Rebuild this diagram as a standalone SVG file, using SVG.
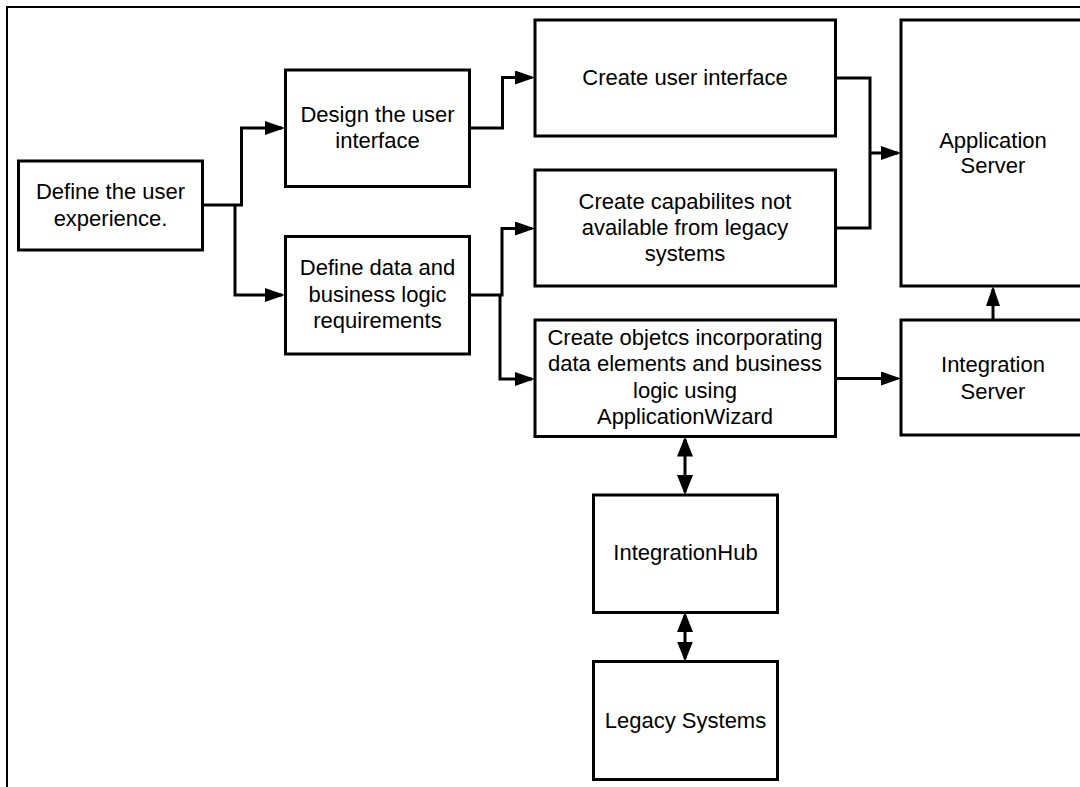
<svg xmlns="http://www.w3.org/2000/svg" width="1080" height="787" viewBox="0 0 1080 787">
  <style>
    .box { fill: #ffffff; stroke: #000000; stroke-width: 3; stroke-linejoin: miter; }
    .lbl { font-family: "Liberation Sans", Arial, sans-serif; font-size: 22px; fill: #000000; text-anchor: middle; }
    .wire { fill: none; stroke: #000000; stroke-width: 3; stroke-linejoin: miter; stroke-linecap: butt; }
    .frame { fill: none; stroke: #000000; stroke-width: 2; }
  </style>
  <defs>
    <marker id="arrow" markerUnits="userSpaceOnUse" markerWidth="22" markerHeight="16" refX="17" refY="7" orient="auto">
      <path d="M0,0 L20,7 L0,14 Z" fill="#000000"/>
    </marker>
    <marker id="arrow2" markerUnits="userSpaceOnUse" markerWidth="22" markerHeight="18" refX="17" refY="8" orient="auto-start-reverse">
      <path d="M0,0 L20,8 L0,16 Z" fill="#000000"/>
    </marker>
  </defs>

  <rect width="1080" height="787" fill="#ffffff"/>
  <!-- page frame -->
  <rect class="frame" x="7" y="7" width="1090" height="800"/>

  <!-- connectors -->
  <g id="connectors">
    <path class="wire" d="M202.5,205 H241.5 V128 H282" marker-end="url(#arrow)"/>
    <path class="wire" d="M235,205 V295 H282" marker-end="url(#arrow)"/>
    <path class="wire" d="M469.5,128 H502.5 V77.5 H532" marker-end="url(#arrow)"/>
    <path class="wire" d="M469.5,295 H502 V228.5 H532" marker-end="url(#arrow)"/>
    <path class="wire" d="M500,295 V379 H532" marker-end="url(#arrow)"/>
    <path class="wire" d="M835.5,78 H870 V228 H835.5"/>
    <path class="wire" d="M870,153 H898" marker-end="url(#arrow)"/>
    <path class="wire" d="M835.5,378.5 H898" marker-end="url(#arrow)"/>
    <path class="wire" d="M993,320 V289" marker-end="url(#arrow)"/>
    <path class="wire" d="M685,439.5 V492" marker-start="url(#arrow2)" marker-end="url(#arrow2)"/>
    <path class="wire" d="M685,615 V658.5" marker-start="url(#arrow2)" marker-end="url(#arrow2)"/>
  </g>

  <g id="define-experience">
    <rect class="box" x="18.5" y="161" width="184" height="89"/>
    <text class="lbl" x="110.5" y="199">Define the user</text>
    <text class="lbl" x="110.5" y="226">experience.</text>
  </g>

  <g id="design-ui">
    <rect class="box" x="285.5" y="70" width="184" height="116.5"/>
    <text class="lbl" x="377.5" y="121.5">Design the user</text>
    <text class="lbl" x="377.5" y="147.5">interface</text>
  </g>

  <g id="define-data">
    <rect class="box" x="285.5" y="236.5" width="184" height="117.5"/>
    <text class="lbl" x="377.5" y="275">Define data and</text>
    <text class="lbl" x="377.5" y="301.5">business logic</text>
    <text class="lbl" x="377.5" y="328">requirements</text>
  </g>

  <g id="create-ui">
    <rect class="box" x="535" y="20" width="300.5" height="116"/>
    <text class="lbl" x="685" y="85">Create user interface</text>
  </g>

  <g id="create-capabilities">
    <rect class="box" x="535" y="170" width="300.5" height="116"/>
    <text class="lbl" x="685" y="208.5">Create capabilites not</text>
    <text class="lbl" x="685" y="235">available from legacy</text>
    <text class="lbl" x="685" y="261">systems</text>
  </g>

  <g id="create-objects">
    <rect class="box" x="535" y="320" width="300.5" height="116.5"/>
    <text class="lbl" x="685" y="344.5">Create objetcs incorporating</text>
    <text class="lbl" x="685" y="371">data elements and business</text>
    <text class="lbl" x="685" y="397.5">logic using</text>
    <text class="lbl" x="685" y="424">ApplicationWizard</text>
  </g>

  <g id="application-server">
    <rect class="box" x="901" y="20" width="184" height="266"/>
    <text class="lbl" x="993" y="147.5">Application</text>
    <text class="lbl" x="993" y="173">Server</text>
  </g>

  <g id="integration-server">
    <rect class="box" x="901" y="320" width="184" height="115"/>
    <text class="lbl" x="993" y="372">Integration</text>
    <text class="lbl" x="993" y="398.5">Server</text>
  </g>

  <g id="integration-hub">
    <rect class="box" x="593.5" y="495" width="184" height="117.5"/>
    <text class="lbl" x="685.5" y="559.5">IntegrationHub</text>
  </g>

  <g id="legacy-systems">
    <rect class="box" x="593.5" y="661.5" width="184" height="118"/>
    <text class="lbl" x="685.5" y="727.5">Legacy Systems</text>
  </g>
</svg>
